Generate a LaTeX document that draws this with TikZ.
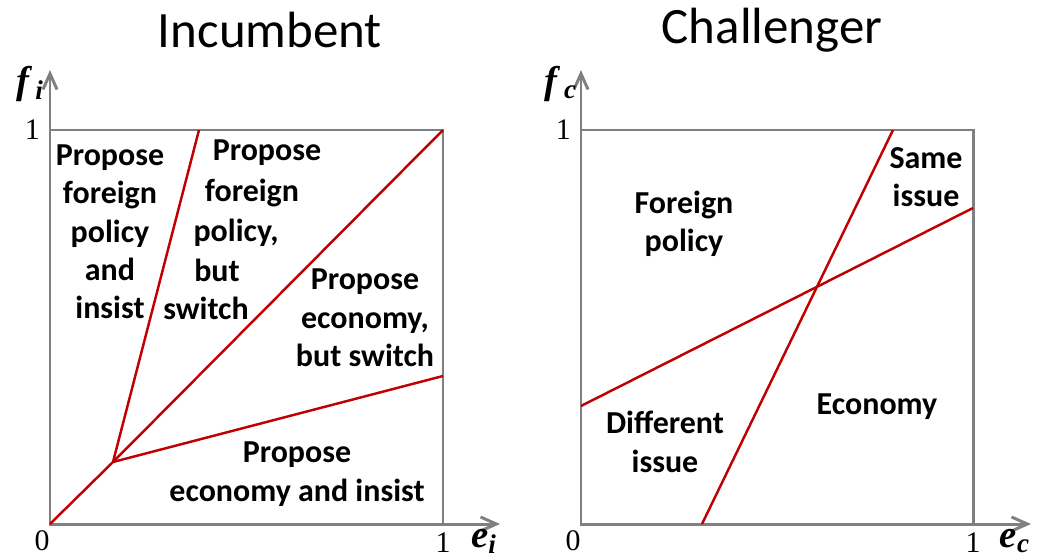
\documentclass[tikz,border=0pt]{standalone}
\usepackage{fontspec}
\setmainfont{Carlito}
\newfontfamily\axisfont{Liberation Serif}
\usetikzlibrary{arrows.meta}
\definecolor{axisgray}{RGB}{128,128,128}
\definecolor{splitred}{RGB}{192,0,0}
\tikzset{
	axis/.style={draw=axisgray,line width=1.7pt,-{Straight Barb[length=9pt,width=8pt,line width=1.7pt]}},
	frame/.style={draw=axisgray,line width=1.7pt},
	split/.style={draw=splitred,line width=1.4pt},
	region/.style={font=\bfseries\fontsize{18.2}{21.8}\selectfont,align=center},
	tick/.style={font=\axisfont\fontsize{17}{20}\selectfont},
	var/.style={font=\axisfont\bfseries\itshape\fontsize{22}{24}\selectfont},
	title/.style={font=\fontsize{29}{35}\selectfont}
}
\begin{document}
\begin{tikzpicture}[x=0.02cm,y=-0.02cm]
	\useasboundingbox (0,0) rectangle (1045,558);

	% incumbent
	\coordinate (o1) at (50,524);
	\coordinate (x1) at (500,524);
	\coordinate (y1) at (50,70);
	\coordinate (k) at (113,462);
	\coordinate (t1) at (199,130);
	\coordinate (c1) at (443,130);
	\coordinate (r1) at (443,376);
	\draw[frame] (o1) rectangle (c1);
	\draw[axis] (o1) -- (x1);
	\draw[axis] (o1) -- (y1);
	\draw[split] (o1) -- (k) -- (t1);
	\draw[split] (k) -- (c1);
	\draw[split] (k) -- (r1);

	\node[title] (inc) at (270,30) {Incumbent};
	\node[var] (fi) at (30,84) {f\,\textsubscript{i}};
	\node[var] (ei) at (484,541) {e\textsubscript{i}};
	\node[tick,anchor=east] (one1y) at (46,130) {1};
	\node[tick] (zero1) at (42,541) {0};
	\node[tick] (one1x) at (443,543) {1};

	\node[region] (insistf) at (110,232) {Propose\\foreign\\policy\\and\\insist};
	\foreach \x/\y/\t in {267/153/Propose,252/193/foreign,236/233/{policy,},217/270/but,206/308/switch}
		\node[region] (sw\y) at (\x,\y) {\t};
	\node[region] (swe) at (365,318) {Propose\\economy,\\but switch};
	\node[region] (insiste) at (297,474) {Propose\\economy and insist};

	% challenger
	\coordinate (o2) at (581,524);
	\coordinate (x2) at (1031,524);
	\coordinate (y2) at (581,70);
	\coordinate (c2) at (973,130);
	\coordinate (a) at (581,406);
	\coordinate (b) at (973,208);
	\coordinate (p) at (702,524);
	\coordinate (q) at (893,130);
	\draw[frame] (o2) rectangle (c2);
	\draw[axis] (o2) -- (x2);
	\draw[axis] (o2) -- (y2);
	\draw[split] (a) -- (b);
	\draw[split] (p) -- (q);

	\node[title] (cha) at (772,30) {Challenger};
	\node[var] (fc) at (561,84) {f\,\textsubscript{c}};
	\node[var] (ec) at (1015,541) {e\textsubscript{c}};
	\node[tick,anchor=east] (one2y) at (577,130) {1};
	\node[tick] (zero2) at (573,541) {0};
	\node[tick] (one2x) at (973,543) {1};

	\node[region] (same) at (926,177) {Same\\issue};
	\node[region] (fp) at (684,224) {Foreign\\policy};
	\node[region] (eco) at (877,407) {Economy};
	\node[region] (diff) at (665,442) {Different\\issue};
\end{tikzpicture}
\end{document}
